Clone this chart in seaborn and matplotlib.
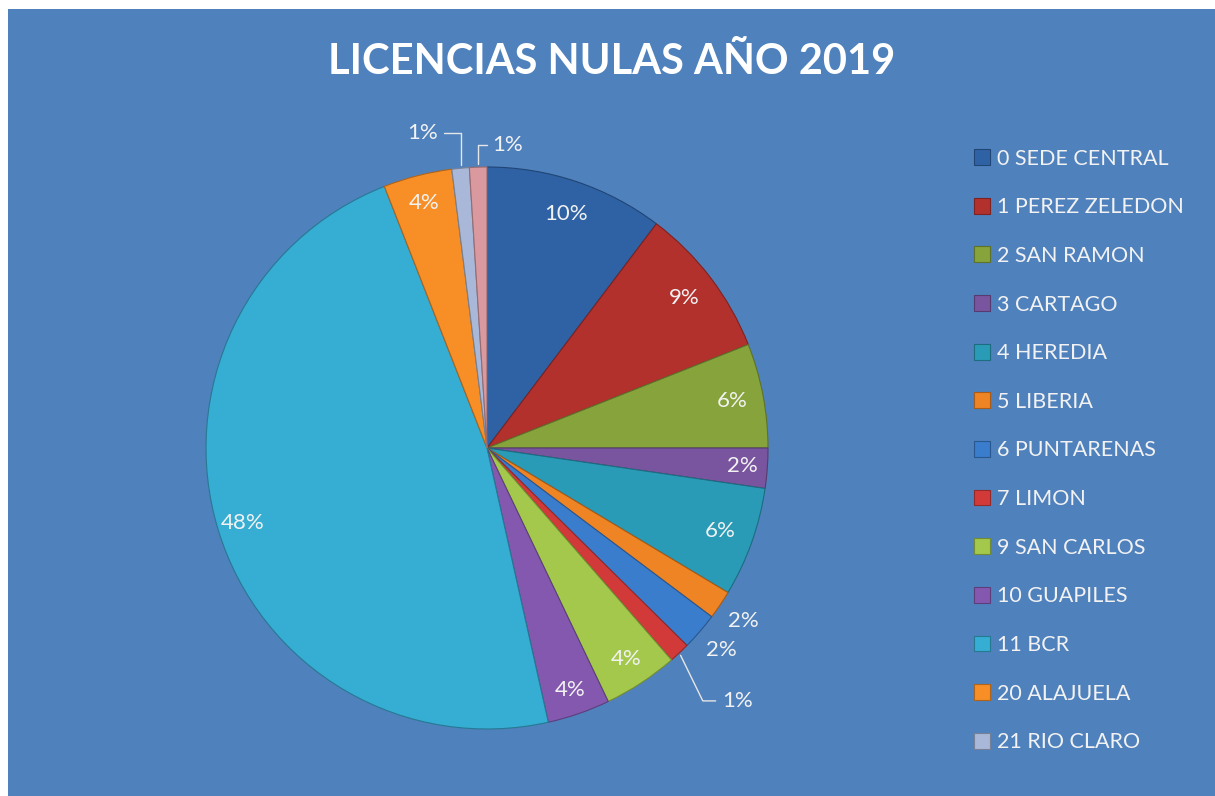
import matplotlib.pyplot as plt
import seaborn as sns
from matplotlib.patches import Rectangle, Patch
import numpy as np

## Data
sedes = ['0 SEDE CENTRAL', '1 PEREZ ZELEDON', '2 SAN RAMON', '3 CARTAGO', '4 HEREDIA',
         '5 LIBERIA', '6 PUNTARENAS', '7 LIMON', '9 SAN CARLOS', '10 GUAPILES',
         '11 BCR', '20 ALAJUELA', '21 RIO CLARO', '']
porcentajes = [10.3, 8.7, 6.0, 2.3, 6.3, 1.65, 2.15, 1.2, 4.3, 3.6, 47.55, 3.95, 1.0, 1.0]
colores = ['#2F62A5', '#B3312D', '#87A33B', '#7A559F', '#2A9BB7', '#EE8424', '#3A7DCC',
           '#D23A3A', '#A3C84B', '#8558B0', '#36ADD2', '#F88F26', '#A9B8D8', '#D9999E']

sns.set_theme(style='white')
plt.rcParams['font.family'] = ['Lato', 'DejaVu Sans']

BG = '#4F81BD'
W, H = 1215, 796
fig = plt.figure(figsize=(W / 100, H / 100), dpi=100, facecolor='white')
fig.patches.append(Rectangle((8 / W, 0), 1, 1 - 9 / H, transform=fig.transFigure,
                             facecolor=BG, edgecolor='none', zorder=-10))

## Pie axes (center 487,448 px ; radius 281 px)
cx, cy, r = 487, 448, 281
ax = fig.add_axes([(cx - r) / W, (H - cy - r) / H, 2 * r / W, 2 * r / H])
ax.set_facecolor('none')
pal = sns.color_palette(colores)
edge = [tuple(np.array(c) * 0.7) for c in pal]
wedges, _ = ax.pie(porcentajes, colors=pal, startangle=90, counterclock=False,
                   radius=1, wedgeprops=dict(linewidth=0.8))
for w, e in zip(wedges, edge):
    w.set_edgecolor(e)
ax.set_xlim(-1, 1)
ax.set_ylim(-1, 1)
ax.axis('off')

total = sum(porcentajes)
etiquetas = [f'{v / total * 100:.0f}%' for v in porcentajes]
radios = [0.88, 0.88, 0.89, 0.91, 0.88, 1.1, 1.1, None, 0.9, 0.91, 0.91, 0.9, None, None]
txt = dict(color='#F2F2F2', fontsize=16, ha='center', va='center')
for w, lab, rr in zip(wedges, etiquetas, radios):
    if rr is None:
        continue
    ang = np.deg2rad((w.theta1 + w.theta2) / 2)
    ax.text(rr * np.cos(ang), rr * np.sin(ang), lab, **txt)

## labels with leader lines
def tip(w):
    ang = np.deg2rad((w.theta1 + w.theta2) / 2)
    return np.cos(ang), np.sin(ang)

ax.annotate(etiquetas[7], xy=tip(wedges[7]), xytext=(0.89, -0.9), **txt,
            arrowprops=dict(arrowstyle='-', color='#E6E6E6', lw=1, relpos=(0, 0.5),
                            connectionstyle='angle,angleA=180,angleB=116,rad=0'))
ax.annotate(etiquetas[12], xy=tip(wedges[12]), xytext=(-0.23, 1.12), **txt,
            arrowprops=dict(arrowstyle='-', color='#E6E6E6', lw=1, relpos=(1, 0.5),
                            connectionstyle='angle,angleA=0,angleB=90,rad=0'))
ax.annotate(etiquetas[13], xy=tip(wedges[13]), xytext=(0.075, 1.08), **txt,
            arrowprops=dict(arrowstyle='-', color='#E6E6E6', lw=1, relpos=(0, 0.5),
                            connectionstyle='angle,angleA=180,angleB=90,rad=0'))

## Title
fig.text(612 / W, 1 - 62 / H, 'LICENCIAS NULAS AÑO 2019', color='white', fontsize=30,
         fontweight='bold', ha='center', va='center')

## Legend (13 entries, the last slice has no name)
handles = [Patch(facecolor=c, edgecolor=e, lw=0.8) for c, e in zip(pal[:13], edge[:13])]
fig.legend(handles, sedes[:13], loc='upper left', bbox_to_anchor=(965 / W, 1 - 140 / H),
           frameon=False, fontsize=15.5, labelcolor='#F2F2F2', handlelength=0.75,
           handleheight=0.75, handletextpad=0.35, labelspacing=1.33, borderaxespad=0)

fig.savefig('out.png', dpi=100, facecolor='white')
